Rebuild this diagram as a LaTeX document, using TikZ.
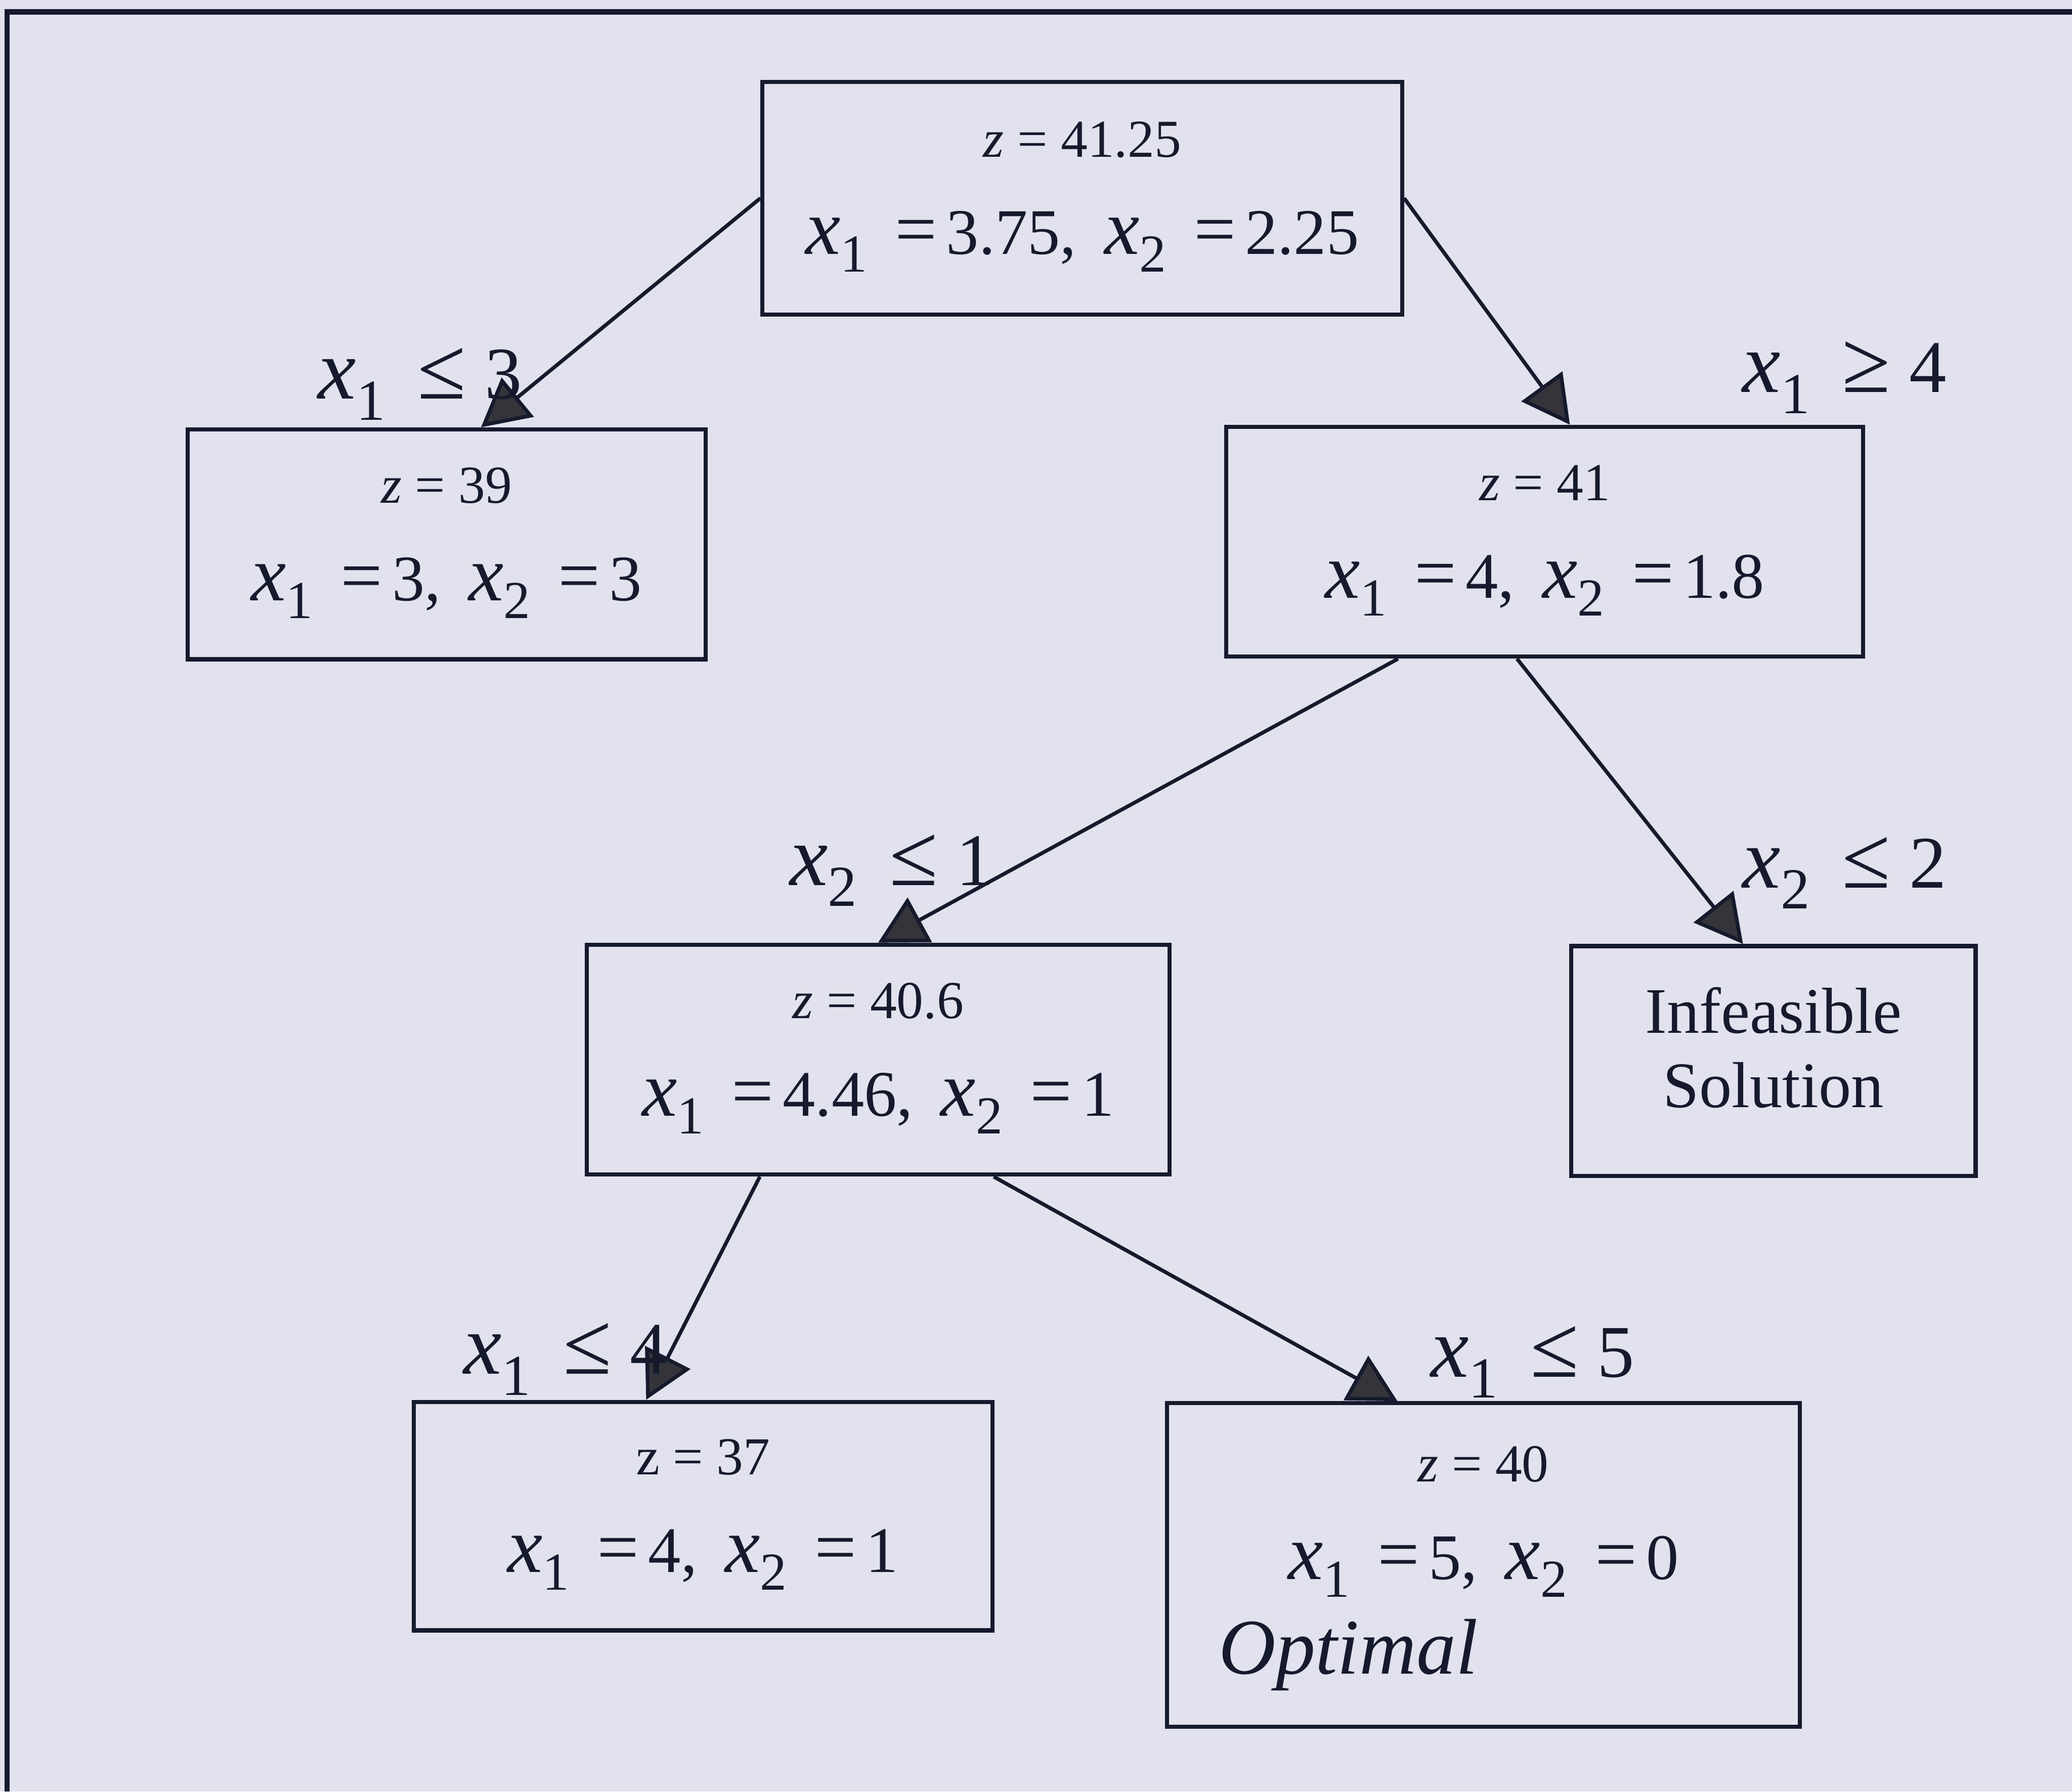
\documentclass[tikz,border=0pt]{standalone}
\usepackage{fontspec}
\setmainfont{Liberation Serif}
\usetikzlibrary{arrows.meta}
\definecolor{paper}{RGB}{225, 226, 237}
\definecolor{ink}{RGB}{22, 26, 45}
\definecolor{tipgray}{RGB}{52, 52, 58}

% variable x with subscript, inside the boxes and on the branches
\newcommand{\bvar}[1]{{\fontsize{17}{17}\selectfont\itshape x}\raisebox{-3.8pt}{\fontsize{11.5}{12}\selectfont #1}}
\newcommand{\lvar}[1]{{\fontsize{18.5}{19}\selectfont\itshape x}\raisebox{-4.5pt}{\fontsize{12.5}{13}\selectfont #1}}
\newcommand{\beq}{\hspace{6pt}{\fontsize{16}{16}\selectfont =}\hspace{2pt}}
\newcommand{\cut}[3]{\lvar{#1}\hspace{7pt}{\fontsize{19}{19}\selectfont #2}\hspace{4pt}#3}
\newcommand{\lowpad}{\rule[-7.3pt]{0pt}{0pt}}

\tikzset{
    nodebox/.style={draw=ink, rectangle, line width=0.9pt, inner sep=0pt, text=ink, font=\fontsize{11.5}{15}\selectfont},
    branch/.style={-{Triangle[length=3.6mm, width=3.8mm, fill=tipgray]}, line width=0.8pt, draw=ink},
    cutlabel/.style={anchor=base west, inner sep=0pt, text=ink, font=\fontsize{16}{18}\selectfont},
}

\begin{document}
\begin{tikzpicture}
    % paper and frame
    \fill[paper] (0,0) rectangle (15.68,-13.56);
    \useasboundingbox (0,0) rectangle (15.68,-13.56);
    \draw[ink, line width=1.1pt] (0.055,-13.56) -- (0.055,-0.09) -- (15.68,-0.09);

    % Root
    \node[nodebox, minimum width=4.84cm, minimum height=1.76cm] (root) at (8.19, -1.50) {
        \begin{tabular}{c}
        {\itshape z} = 41.25 \\[6pt]
        {\fontsize{14}{15}\selectfont \bvar{1}\beq 3.75,\hspace{6pt}\bvar{2}\beq 2.25}\lowpad
        \end{tabular}
    };

    % Level 1
    \node[nodebox, minimum width=3.92cm, minimum height=1.74cm] (sub1) at (3.38, -4.12) {
        \begin{tabular}{c}
        {\itshape z} = 39 \\[6pt]
        {\fontsize{14}{15}\selectfont \bvar{1}\beq 3,\hspace{6pt}\bvar{2}\beq 3}\lowpad
        \end{tabular}
    };
    \node[nodebox, minimum width=4.82cm, minimum height=1.74cm] (sub2) at (11.69, -4.10) {
        \begin{tabular}{c}
        {\itshape z} = 41 \\[6pt]
        {\fontsize{14}{15}\selectfont \bvar{1}\beq 4,\hspace{6pt}\bvar{2}\beq 1.8}\lowpad
        \end{tabular}
    };

    % Level 2
    \node[nodebox, minimum width=4.41cm, minimum height=1.74cm] (sub3) at (6.645, -8.02) {
        \begin{tabular}{c}
        {\itshape z} = 40.6 \\[6pt]
        {\fontsize{14}{15}\selectfont \bvar{1}\beq 4.46,\hspace{6pt}\bvar{2}\beq 1}\lowpad
        \end{tabular}
    };
    \node[nodebox, minimum width=3.06cm, minimum height=1.74cm, font=\fontsize{14}{16}\selectfont] (infeas) at (13.42, -8.03) {
        \begin{tabular}{c}
        Infeasible \\
        Solution\lowpad
        \end{tabular}
    };

    % Level 3
    \node[nodebox, minimum width=4.38cm, minimum height=1.73cm] (sub5) at (5.32, -11.475) {
        \begin{tabular}{c}
        z = 37 \\[6pt]
        {\fontsize{14}{15}\selectfont \bvar{1}\beq 4,\hspace{6pt}\bvar{2}\beq 1}\lowpad
        \end{tabular}
    };
    \node[nodebox, minimum width=4.79cm, minimum height=2.45cm] (optimal) at (11.225, -11.845) {
        \begin{tabular}{c}
        {\itshape z} = 40 \\[6pt]
        {\fontsize{14}{15}\selectfont \bvar{1}\beq 5,\hspace{6pt}\bvar{2}\beq 0} \\[4pt]
        \makebox[4.0cm][l]{\fontsize{17}{15}\selectfont\itshape Optimal}\rule[-5pt]{0pt}{0pt}
        \end{tabular}
    };

    % Branches
    \draw[branch] (root.west) -- ([xshift=0.26cm]sub1.north);
    \draw[branch] (root.east) -- ([xshift=0.19cm]sub2.north);
    \draw[branch] ([xshift=-1.11cm]sub2.south) -- (sub3.north);
    \draw[branch] ([xshift=-0.21cm]sub2.south) -- ([xshift=-0.23cm]infeas.north);
    \draw[branch] ([xshift=-0.895cm]sub3.south) -- ([xshift=-0.43cm]sub5.north);
    \draw[branch] ([xshift=0.875cm]sub3.south) -- ([xshift=-0.65cm]optimal.north);

    % Branch constraints
    \node[cutlabel] (cut1) at (2.40, -3.02) {\cut{1}{≤}{3}};
    \node[cutlabel] (cut2) at (13.18, -2.97) {\cut{1}{≥}{4}};
    \node[cutlabel] (cut3) at (5.97, -6.70) {\cut{2}{≤}{1}};
    \node[cutlabel] (cut4) at (13.18, -6.72) {\cut{2}{≤}{2}};
    \node[cutlabel] (cut5) at (3.50, -10.40) {\cut{1}{≤}{4}};
    \node[cutlabel] (cut6) at (10.82, -10.42) {\cut{1}{≤}{5}};
\end{tikzpicture}
\end{document}
